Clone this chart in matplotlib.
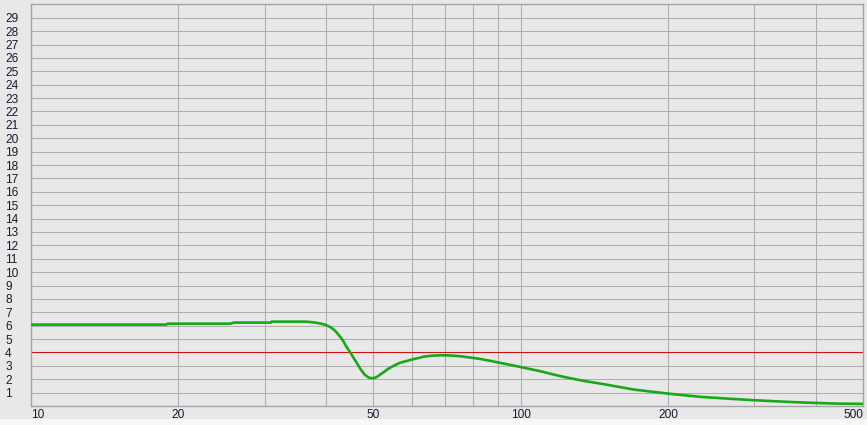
import matplotlib
matplotlib.use("Agg")
import matplotlib.pyplot as plt
from matplotlib.ticker import FixedLocator, NullLocator
from matplotlib.patches import Rectangle

# Data
freq = [10, 12, 15, 18.9, 19, 22, 25.5, 26, 28, 30.9, 31, 33, 36.5, 37.9, 38.9, 39.8,
        40.6, 41.4, 42.0, 42.5, 43.0, 43.5, 44.0, 44.5, 44.9, 45.4, 45.8, 46.4, 46.9,
        47.5, 48.0, 48.6, 49.1, 49.7, 50.3, 51.0, 51.6, 52.6, 53.6, 55.0, 56.6, 58.0,
        59.4, 60.8, 62.3, 63.2, 65.5, 68.4, 71.5, 75.1, 78.5, 82.5, 86.5, 90.6, 95,
        99.7, 104.5, 109.6, 115, 120.5, 126.5, 132.5, 139, 145.6, 158, 170.1, 185,
        199.6, 216, 233.5, 265, 300, 333, 366, 400, 441, 470, 500]
level = [6.08, 6.08, 6.08, 6.08, 6.15, 6.15, 6.15, 6.23, 6.23, 6.23, 6.3, 6.3, 6.3, 6.24, 6.17, 6.08,
         5.95, 5.75, 5.53, 5.3, 5.08, 4.8, 4.46, 4.2, 3.97, 3.7, 3.47, 3.15, 2.85,
         2.57, 2.35, 2.2, 2.1, 2.08, 2.1, 2.2, 2.34, 2.55, 2.77, 3.0, 3.22, 3.33,
         3.43, 3.53, 3.61, 3.68, 3.75, 3.79, 3.78, 3.72, 3.63, 3.52, 3.38, 3.23, 3.08,
         2.92, 2.76, 2.6, 2.41, 2.23, 2.07, 1.92, 1.79, 1.67, 1.44, 1.23, 1.07,
         0.93, 0.8, 0.68, 0.55, 0.43, 0.35, 0.28, 0.23, 0.18, 0.17, 0.16]
ref_level = 4
xtick_values = [10, 20, 50, 100, 200, 500]
xtick_labels = ["10", "20", "50", "100", "200", "500"]
xgrid_values = [20, 30, 40, 50, 60, 70, 80, 90, 100, 200, 300, 400]
ytick_values = list(range(1, 30))

plt.rcParams['font.family'] = ['Liberation Sans', 'DejaVu Sans']

fig = plt.figure(figsize=(8.67, 4.25), dpi=100, facecolor='#e8e8e8')
fig.patches.append(Rectangle((0, 0), 1, 6 / 425, transform=fig.transFigure,
                             facecolor='#f8f8f8', edgecolor='none', zorder=0))
ax = fig.add_axes([31 / 867, 19 / 425, (863 - 31) / 867, (406.4 - 4.8) / 425])
ax.set_facecolor('#e8e8e8')
ax.set_xscale('log')
ax.set_xlim(10, 500)
ax.set_ylim(0, 30)

grid_color = '#afafaf'
for xv in xgrid_values:
    ax.axvline(xv, color=grid_color, lw=0.75, zorder=1)
for yv in range(1, 30):
    ax.axhline(yv, color=grid_color, lw=0.75, zorder=1)

ax.axhline(ref_level, color='#d01010', lw=0.75, zorder=2)
ax.plot(freq, level, color='#18a818', lw=1.9, zorder=3, solid_capstyle='butt')

ax.xaxis.set_major_locator(FixedLocator(xtick_values))
ax.xaxis.set_minor_locator(NullLocator())
ax.set_xticklabels(xtick_labels)
ax.set_yticks(ytick_values)
ax.set_yticklabels([str(v) for v in ytick_values])
ax.tick_params(axis='both', length=0, labelsize=8.6, labelcolor='#1a1a30')
ax.tick_params(axis='x', pad=1.8)
ax.tick_params(axis='y', pad=18.6)
for lab in ax.get_yticklabels():
    lab.set_horizontalalignment('left')
xl = ax.get_xticklabels()
xl[0].set_horizontalalignment('left')
xl[-1].set_horizontalalignment('right')

for s in ax.spines.values():
    s.set_color('#a4a4a4')
    s.set_linewidth(1.0)

fig.savefig('out.png', dpi=100, facecolor=fig.get_facecolor())
